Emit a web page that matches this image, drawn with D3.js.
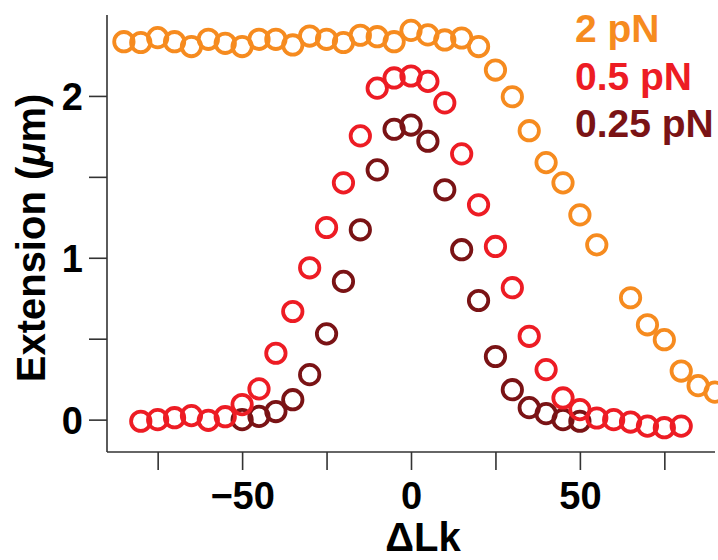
<!DOCTYPE html>
<html lang="en">
<head>
    <meta charset="UTF-8">
    <title>Extension vs Lk</title>
    <script src="https://cdn.jsdelivr.net/npm/d3@7"></script>
    <style>
        body { margin: 0; background: #fff; }
        text { font-family: "Liberation Sans", Arial, Helvetica, sans-serif; font-weight: bold; }
    </style>
</head>
<body>
    <script>
        const width = 718;
        const height = 560;

        // data (ΔLk, extension in µm)
        const lk_2pN = [-85, -80, -75, -70, -65, -60, -55, -50, -45, -40, -35, -30, -25, -20, -15, -10, -5, 0, 5, 10, 15, 20, 25, 30, 35, 40, 45, 50, 55, 65, 70, 75, 80, 85, 90];
        const ext_2pN = [2.335, 2.33, 2.36, 2.335, 2.305, 2.35, 2.325, 2.305, 2.35, 2.35, 2.315, 2.37, 2.35, 2.33, 2.375, 2.366, 2.335, 2.405, 2.377, 2.346, 2.358, 2.305, 2.16, 1.995, 1.785, 1.588, 1.463, 1.265, 1.08, 0.753, 0.586, 0.494, 0.3, 0.21, 0.17];

        const lk_05pN = [-80, -75, -70, -65, -60, -55, -50, -45, -40, -35, -30, -25, -20, -15, -10, -5, 0, 5, 10, 15, 20, 25, 30, 35, 40, 45, 50, 55, 60, 65, 70, 75, 80];
        const ext_05pN = [-0.01, 0.0, 0.012, 0.025, -0.004, 0.018, 0.093, 0.19, 0.41, 0.668, 0.938, 1.187, 1.463, 1.753, 2.048, 2.111, 2.123, 2.09, 1.957, 1.642, 1.327, 1.07, 0.815, 0.515, 0.309, 0.134, 0.062, 0.01, 0.0, -0.015, -0.04, -0.05, -0.04];

        const lk_025pN = [-50, -45, -40, -35, -30, -25, -20, -15, -10, -5, 0, 5, 10, 15, 20, 25, 30, 35, 40, 45, 50];
        const ext_025pN = [0.0, 0.02, 0.05, 0.123, 0.278, 0.53, 0.854, 1.173, 1.543, 1.794, 1.82, 1.72, 1.42, 1.05, 0.736, 0.39, 0.185, 0.074, 0.037, 0.0, -0.01];

        const legend_labels = ['2 pN', '0.5 pN', '0.25 pN'];
        const series_colors = ['#F68B1F', '#ED1C24', '#7A1315'];

        const x_ticks = [-75, -50, -25, 0, 25, 50, 75];
        const x_labels = [-50, 0, 50];
        const y_ticks = [0, 0.5, 1, 1.5, 2];
        const y_labels = [0, 1, 2];

        const m_left = 107, m_right = 715, m_top = 15, m_bottom = 452;

        const xScale = d3.scaleLinear().domain([-90, 90]).range([m_left, m_right]);
        const yScale = d3.scaleLinear().domain([-0.2, 2.5]).range([m_bottom, m_top]);

        const svg = d3.select('body')
                      .append('svg')
                      .attr('width', width)
                      .attr('height', height);

        const axisColor = '#333';

        // x axis
        const xAxis = d3.axisBottom(xScale)
                        .tickValues(x_ticks)
                        .tickSize(18)
                        .tickFormat(d => x_labels.indexOf(d) > -1 ? (d < 0 ? '\u2212' + Math.abs(d) : d) : '');
        const gx = svg.append('g')
                      .attr('transform', 'translate(0,' + m_bottom + ')')
                      .call(xAxis);
        gx.select('.domain').attr('d', 'M' + m_left + ',0H' + m_right);

        // y axis
        const yAxis = d3.axisLeft(yScale)
                        .tickValues(y_ticks)
                        .tickSize(18)
                        .tickFormat(d => y_labels.indexOf(d) > -1 ? d : '');
        const gy = svg.append('g')
                      .attr('transform', 'translate(' + m_left + ',0)')
                      .call(yAxis);
        gy.select('.domain').attr('d', 'M0,' + m_top + 'V' + m_bottom);

        svg.selectAll('.domain, .tick line')
           .attr('stroke', axisColor)
           .attr('stroke-width', 1.6);
        svg.selectAll('.tick text')
           .attr('fill', '#000')
           .style('font-size', '38px');
        gx.selectAll('.tick text').attr('dy', '0.71em').attr('y', 30);
        gy.selectAll('.tick text').attr('x', -24).attr('dy', '0.36em');

        // axis titles
        svg.append('text')
           .attr('x', 423)
           .attr('y', 551)
           .attr('text-anchor', 'middle')
           .style('font-size', '40px')
           .text('\u0394Lk');

        const ytitle = svg.append('text')
           .attr('transform', 'translate(45,238) rotate(-90)')
           .attr('text-anchor', 'middle')
           .style('font-size', '40px');
        ytitle.append('tspan').text('Extension (');
        ytitle.append('tspan').style('font-style', 'italic').text('\u03bc');
        ytitle.append('tspan').text('m)');

        // points
        const series = [
            {lk: lk_025pN, ext: ext_025pN, color: series_colors[2]},
            {lk: lk_05pN, ext: ext_05pN, color: series_colors[1]},
            {lk: lk_2pN, ext: ext_2pN, color: series_colors[0]}
        ];
        series.forEach(function(s){
            svg.append('g')
               .selectAll('circle')
               .data(s.lk.map((v, i) => ({x: v, y: s.ext[i]})))
               .enter()
               .append('circle')
               .attr('cx', d => xScale(d.x))
               .attr('cy', d => yScale(d.y))
               .attr('r', 9.7)
               .attr('fill', 'none')
               .attr('stroke', s.color)
               .attr('stroke-width', 3.8);
        });

        // legend
        svg.append('g')
           .selectAll('text')
           .data(legend_labels)
           .enter()
           .append('text')
           .attr('x', 575)
           .attr('y', (d, i) => 42 + i * 47.5)
           .attr('fill', (d, i) => series_colors[i])
           .style('font-size', '39px')
           .text(d => d);
    </script>
</body>
</html>
